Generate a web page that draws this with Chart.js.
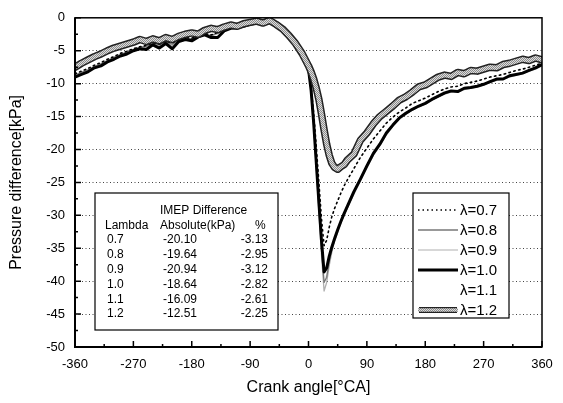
<!DOCTYPE html>
<html>
<head>
<meta charset="utf-8">
<script src="https://cdn.jsdelivr.net/npm/chart.js@4.4.0/dist/chart.umd.min.js"></script>
<style>
  body { margin: 0; background: #fff; }
  #wrap { width: 563px; height: 403px; }
</style>
</head>
<body>
<div id="wrap"><canvas id="linechart" width="563" height="403"></canvas></div>
<script>
// crank angle grid (deg CA)
var angles = [-360,-350,-340,-330,-320,-310,-300,-290,-280,-270,-260,-250,-240,-230,-220,-210,-200,-190,-180,-170,
  -160,-150,-140,-130,-120,-110,-100,-90,-80,-70,-60,-50,-40,-30,-20,-10,
  0,4,8,12,16,20,24,28,32,36,40,45,50,55,60,
  70,80,90,100,110,120,130,140,150,160,170,180,190,200,210,220,230,240,250,260,270,280,290,300,310,320,330,340,350,360];

// pressure difference [kPa] for each lambda
var lam07 = [-8.5,-8.1,-7.7,-7.2,-6.8,-6.3,-5.9,-5.4,-5.1,-4.7,-4.4,-4.2,-3.8,-4.0,-3.6,-3.8,-3.3,-3.0,-3.1,-2.6,
  -2.4,-2.6,-2.2,-1.8,-1.5,-1.3,-1.1,-0.9,-0.7,-0.9,-0.6,-1.1,-1.8,-2.8,-4.0,-5.5,
  -7.7,-10.5,-14.5,-19.5,-25.0,-30.5,-34.6,-33.8,-31.8,-30.2,-29.0,-27.8,-26.6,-25.5,-24.6,
  -22.9,-21.2,-19.8,-18.4,-17.2,-16.0,-15.1,-14.3,-13.7,-13.0,-12.6,-12.2,-11.7,-11.2,-10.8,-10.5,-10.4,-10.0,-9.8,-9.6,-9.3,-9.0,-8.8,-8.6,-8.3,-8.0,-7.8,-7.5,-7.2,-6.9];
var lam08 = [-8.7,-8.3,-7.9,-7.4,-7.0,-6.5,-6.0,-5.6,-5.2,-4.8,-4.5,-4.3,-3.9,-4.1,-3.7,-4.0,-3.4,-3.1,-3.2,-2.7,
  -2.5,-2.7,-2.3,-1.9,-1.5,-1.4,-1.2,-0.9,-0.7,-0.9,-0.6,-1.1,-1.8,-2.8,-4.0,-5.6,
  -7.8,-11.1,-16.2,-22.5,-28.8,-35.0,-40.2,-39.4,-37.0,-35.2,-33.8,-32.4,-31.0,-29.9,-28.8,
  -26.6,-24.6,-22.7,-20.8,-19.3,-17.6,-16.4,-15.3,-14.6,-14.0,-13.5,-13.0,-12.5,-12.0,-11.5,-11.2,-11.2,-10.8,-10.6,-10.4,-10.1,-9.8,-9.4,-9.3,-8.9,-8.6,-8.4,-8.0,-7.7,-7.2];
var lam09 = [-8.8,-8.5,-8.0,-7.5,-7.1,-6.6,-6.1,-5.7,-5.3,-4.9,-4.6,-4.5,-4.0,-4.3,-3.8,-4.2,-3.5,-3.2,-3.3,-2.8,
  -2.5,-2.8,-2.4,-1.9,-1.6,-1.4,-1.2,-1.0,-0.8,-1.0,-0.7,-1.2,-1.9,-2.9,-4.1,-5.7,
  -7.8,-11.2,-16.5,-23.0,-29.5,-36.0,-41.5,-40.2,-37.6,-35.6,-34.0,-32.6,-31.2,-30.0,-28.9,
  -26.8,-24.8,-22.8,-20.9,-19.4,-17.8,-16.5,-15.4,-14.7,-14.0,-13.5,-13.1,-12.5,-12.0,-11.6,-11.3,-11.3,-10.9,-10.7,-10.5,-10.2,-9.8,-9.5,-9.3,-9.0,-8.7,-8.5,-8.1,-7.8,-7.3];
var lam10 = [-9.0,-8.6,-8.2,-7.6,-7.3,-6.7,-6.3,-5.8,-5.5,-5.0,-4.7,-4.8,-4.1,-4.6,-3.9,-4.7,-3.6,-3.3,-3.5,-2.9,
  -2.6,-3.0,-3.0,-2.0,-1.6,-1.5,-1.3,-1.0,-0.8,-1.0,-0.7,-1.2,-1.9,-2.9,-4.1,-5.7,
  -7.8,-11.0,-16.0,-22.0,-28.0,-33.8,-38.6,-38.0,-36.2,-34.8,-33.6,-32.2,-30.9,-29.7,-28.6,
  -26.4,-24.5,-22.5,-20.6,-19.2,-17.5,-16.3,-15.2,-14.5,-13.9,-13.4,-13.0,-12.4,-11.9,-11.4,-11.1,-11.2,-10.7,-10.6,-10.4,-10.1,-9.7,-9.3,-9.3,-8.8,-8.6,-8.4,-8.0,-7.6,-7.1];
var lam11 = [-8.6,-8.2,-7.8,-7.3,-6.9,-6.4,-6.0,-5.5,-5.2,-4.8,-4.5,-4.4,-3.9,-4.2,-3.7,-4.0,-3.4,-3.1,-3.2,-2.7,
  -2.5,-2.7,-2.3,-1.9,-1.5,-1.4,-1.2,-0.9,-0.7,-0.9,-0.6,-1.1,-1.8,-2.8,-4.0,-5.6,
  -7.7,-11.0,-16.2,-22.4,-28.6,-34.8,-39.8,-39.0,-36.8,-35.0,-33.6,-32.2,-30.9,-29.8,-28.7,
  -26.5,-24.6,-22.6,-20.7,-19.3,-17.6,-16.4,-15.3,-14.6,-14.0,-13.4,-13.0,-12.4,-11.9,-11.5,-11.2,-11.1,-10.8,-10.6,-10.3,-10.1,-9.7,-9.4,-9.2,-8.9,-8.6,-8.3,-8.0,-7.6,-7.2];
var lam12 = [-7.5,-6.9,-6.4,-5.9,-5.5,-5.0,-4.6,-4.3,-4.0,-3.7,-3.3,-3.6,-3.2,-3.5,-3.0,-3.3,-2.8,-2.5,-2.3,-2.5,
  -1.9,-1.6,-1.8,-1.4,-1.1,-1.3,-0.9,-0.7,-0.5,-0.8,-0.4,-1.0,-1.7,-2.7,-3.9,-5.4,
  -7.3,-8.2,-9.3,-10.7,-12.4,-14.6,-17.0,-19.2,-20.9,-22.1,-22.7,-23.0,-22.6,-22.3,-21.6,
  -20.7,-18.6,-17.5,-16.1,-15.0,-14.2,-13.4,-12.5,-12.0,-11.3,-10.5,-10.2,-9.6,-9.0,-8.7,-8.9,-8.3,-8.5,-8.0,-8.1,-7.8,-7.5,-7.6,-7.1,-6.9,-6.6,-6.3,-6.5,-6.1,-6.4];

var legendLabels = ["\u03bb=0.7", "\u03bb=0.8", "\u03bb=0.9", "\u03bb=1.0", "\u03bb=1.1", "\u03bb=1.2"];

// IMEP difference table
var imepLambda = ["0.7", "0.8", "0.9", "1.0", "1.1", "1.2"];
var imepAbs = ["-20.10", "-19.64", "-20.94", "-18.64", "-16.09", "-12.51"];
var imepPct = ["-3.13", "-2.95", "-3.12", "-2.82", "-2.61", "-2.25"];

var FONT = "'Liberation Sans', Arial, sans-serif";

function pts(vals) {
  return angles.map((a, i) => ({ x: a, y: vals[i] }));
}

// dithered grey for the lambda=1.2 band
let pc = document.createElement("canvas");
pc.width = 2; pc.height = 2;
let pctx = pc.getContext("2d");
pctx.fillStyle = "#dcdcdc"; pctx.fillRect(0, 0, 2, 2);
pctx.fillStyle = "#8c8c8c"; pctx.fillRect(0, 0, 1, 1); pctx.fillRect(1, 1, 1, 1);
let bandFill = document.createElement("canvas").getContext("2d").createPattern(pc, "repeat");

// frame, inward ticks, legend and table
const decorations = {
  id: "decorations",
  afterDraw(chart) {
    const ctx = chart.ctx;
    const a = chart.chartArea;
    const xs = chart.scales.x, ys = chart.scales.y;
    ctx.save();
    ctx.strokeStyle = "#000";
    ctx.lineWidth = 1.5;
    ctx.strokeRect(a.left, a.top, a.right - a.left, a.bottom - a.top);
    ctx.lineWidth = 2;
    ctx.beginPath();
    ctx.moveTo(a.left, a.top); ctx.lineTo(a.left, a.bottom); ctx.lineTo(a.right, a.bottom);
    ctx.stroke();
    ctx.lineWidth = 1.5;
    ctx.beginPath();
    for (let v = -360; v <= 360; v += 45) {
      const px = xs.getPixelForValue(v);
      const len = (v % 90 === 0) ? 6 : 3;
      ctx.moveTo(px, a.bottom); ctx.lineTo(px, a.bottom - len);
    }
    for (let v = -50; v <= 0; v += 2.5) {
      const py = ys.getPixelForValue(v);
      const len = (v % 5 === 0) ? 6 : 3;
      ctx.moveTo(a.left, py); ctx.lineTo(a.left + len, py);
    }
    ctx.stroke();

    // legend box
    ctx.fillStyle = "#fff";
    ctx.fillRect(413, 193, 96, 125);
    ctx.lineWidth = 1.2;
    ctx.strokeRect(413, 193, 96, 125);
    ctx.font = "15px " + FONT;
    ctx.textBaseline = "middle";
    ctx.textAlign = "left";
    legendLabels.forEach((lab, i) => {
      const y = 210 + i * 20;
      ctx.save();
      if (i === 0) { ctx.strokeStyle = "#000"; ctx.lineWidth = 1.5; ctx.setLineDash([1.5, 3]); }
      if (i === 1) { ctx.strokeStyle = "#777"; ctx.lineWidth = 1.3; }
      if (i === 2) { ctx.strokeStyle = "#b0b0b0"; ctx.lineWidth = 1.2; }
      if (i === 3) { ctx.strokeStyle = "#000"; ctx.lineWidth = 3; }
      if (i === 4) { ctx.strokeStyle = "#fff"; ctx.lineWidth = 1; }
      if (i === 5) {
        ctx.strokeStyle = "#222"; ctx.lineWidth = 6;
        ctx.beginPath(); ctx.moveTo(419, y); ctx.lineTo(457, y); ctx.stroke();
        ctx.strokeStyle = bandFill; ctx.lineWidth = 3.5;
      }
      ctx.beginPath(); ctx.moveTo(418, y); ctx.lineTo(458, y); ctx.stroke();
      ctx.restore();
      ctx.fillStyle = "#000";
      ctx.fillText(lab, 460, y + 1);
    });

    // IMEP table
    ctx.fillStyle = "#fff";
    ctx.fillRect(95, 193, 183, 137);
    ctx.strokeRect(95, 193, 183, 137);
    ctx.fillStyle = "#000";
    ctx.font = "12px " + FONT;
    ctx.textAlign = "left";
    ctx.fillText("IMEP Difference", 160, 211);
    ctx.fillText("Lambda", 105, 226);
    ctx.fillText("Absolute(kPa)", 160, 226);
    ctx.fillText("%", 255, 226);
    imepLambda.forEach((l, i) => {
      const y = 240 + i * 14.8;
      ctx.textAlign = "left";
      ctx.fillText(l, 107, y);
      ctx.fillText(imepAbs[i], 163, y);
      ctx.textAlign = "right";
      ctx.fillText(imepPct[i], 268, y);
    });
    ctx.restore();
  }
};

let ctx = document.getElementById("linechart").getContext("2d");

let chart = new Chart(ctx, {
  type: "line",
  data: {
    datasets: [
      { label: "l12fill", data: pts(lam12), borderColor: bandFill, borderWidth: 4.5, order: 0 },
      { label: "l12edge", data: pts(lam12), borderColor: "#222", borderWidth: 7.5, order: 1 },
      { label: "l10", data: pts(lam10), borderColor: "#000", borderWidth: 3, order: 2 },
      { label: "l07", data: pts(lam07), borderColor: "#000", borderWidth: 1.6, borderDash: [1.5, 3.5], order: 3 },
      { label: "l08", data: pts(lam08), borderColor: "#777", borderWidth: 1.3, order: 4 },
      { label: "l09", data: pts(lam09), borderColor: "#b0b0b0", borderWidth: 1.3, order: 5 },
      { label: "l11", data: pts(lam11), borderColor: "#e6e6e6", borderWidth: 1, order: 6 },
    ],
  },
  options: {
    responsive: false,
    animation: false,
    elements: {
      point: { radius: 0 },
      line: { tension: 0, fill: false, borderJoinStyle: "round", borderCapStyle: "round" },
    },
    layout: { padding: { left: 0, right: 21, top: 10, bottom: 0 } },
    plugins: {
      legend: { display: false },
      tooltip: { enabled: false },
    },
    scales: {
      x: {
        type: "linear",
        min: -360,
        max: 360,
        afterFit: (s) => { s.height = 56; },
        grid: { display: false, drawTicks: false },
        border: { display: false },
        ticks: { stepSize: 90, padding: 10, color: "#000", font: { family: FONT, size: 13 } },
        title: {
          display: true,
          text: "Crank angle[\u00b0CA]",
          color: "#000",
          font: { family: FONT, size: 16 },
          padding: { top: 0, bottom: 6 },
        },
      },
      y: {
        type: "linear",
        min: -50,
        max: 0,
        afterFit: (s) => { s.width = 75; },
        grid: {
          drawTicks: false,
          lineWidth: 1,
          color: (c) => (c.tick && (c.tick.value === 0 || c.tick.value === -50)) ? "rgba(0,0,0,0)" : "#444",
        },
        border: { display: false, dash: [1, 2.5] },
        ticks: { stepSize: 5, padding: 10, color: "#000", font: { family: FONT, size: 13 } },
        title: {
          display: true,
          text: "Pressure difference[kPa]",
          color: "#000",
          font: { family: FONT, size: 16 },
          padding: { top: 7, bottom: 0 },
        },
      },
    },
  },
  plugins: [decorations],
});
</script>
</body>
</html>
